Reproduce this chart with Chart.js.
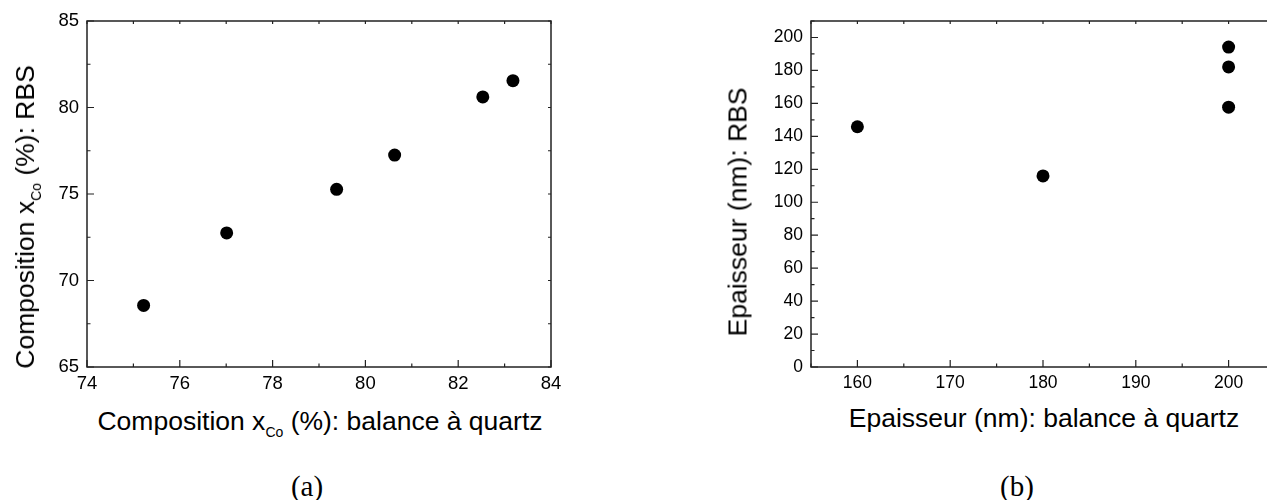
<!DOCTYPE html>
<html>
<head>
<meta charset="utf-8">
<script src="https://cdn.jsdelivr.net/npm/chart.js@4/dist/chart.umd.min.js"></script>
<style>
  html, body { margin: 0; padding: 0; background: #fff; overflow: hidden; width: 1267px; height: 500px; }
  canvas { position: absolute; top: 0; }
  .lbl { position: absolute; font-family: "Liberation Sans", Arial, sans-serif; font-size: 26.5px; color: #000;
         white-space: nowrap; transform: translate(-50%, -50%); }
  .lbl sub { font-size: 14px; vertical-align: -7px; }
  .rot { transform: translate(-50%, -50%) rotate(-90deg); }
  .cap { position: absolute; font-family: "Liberation Serif", "DejaVu Serif", serif; font-size: 29px;
         transform: translate(-50%, -50%); }
</style>
</head>
<body>
<canvas id="compChart" width="580" height="400" style="left:0"></canvas>
<canvas id="thickChart" width="600" height="400" style="left:700px"></canvas>

<div class="lbl rot" style="left:27px; top:217px">Composition x<sub>Co</sub> (%): RBS</div>
<div class="lbl" style="left:320px; top:423px">Composition x<sub>Co</sub> (%): balance à quartz</div>
<div class="cap" style="left:307px; top:486px">(a)</div>

<div class="lbl rot" style="left:738px; top:212px">Epaisseur (nm): RBS</div>
<div class="lbl" style="left:1044px; top:418px">Epaisseur (nm): balance à quartz</div>
<div class="cap" style="left:1017px; top:486px">(b)</div>

<script>
// (a) composition: quartz balance vs RBS
const compQuartz = [75.22, 77.01, 79.38, 80.63, 82.53, 83.18];
const compRBS    = [68.56, 72.75, 75.27, 77.25, 80.61, 81.55];
const compXTicks = [74, 76, 78, 80, 82, 84];
const compYTicks = [65, 70, 75, 80, 85];

// (b) thickness: quartz balance vs RBS
const thickQuartz = [160, 180, 200, 200, 200];
const thickRBS    = [145.8, 116.0, 194.2, 182.1, 157.7];
const thickXTicks = [160, 170, 180, 190, 200];
const thickYTicks = [0, 20, 40, 60, 80, 100, 120, 140, 160, 180, 200];

// frame box + inward ticks (major/minor), small mirrored ticks on top/right
const frameTicks = {
  id: 'frameTicks',
  afterDraw(chart, args, opts) {
    const ctx = chart.ctx;
    const a = chart.chartArea;
    const xs = chart.scales.x, ys = chart.scales.y;
    ctx.save();
    ctx.strokeStyle = '#222';
    ctx.lineWidth = 1.5;
    ctx.strokeRect(a.left, a.top, a.right - a.left, a.bottom - a.top);
    ctx.lineWidth = 1.2;
    ctx.beginPath();
    const major = (s) => s.ticks.map(t => t.value);
    const minorVals = (s, step) => {
      const out = [];
      for (let v = Math.ceil(s.min / step) * step; v <= s.max + 1e-9; v += step) {
        if (!major(s).some(m => Math.abs(m - v) < 1e-6)) out.push(v);
      }
      return out;
    };
    major(xs).forEach(v => {
      const p = xs.getPixelForValue(v);
      ctx.moveTo(p, a.bottom); ctx.lineTo(p, a.bottom - 7);
      ctx.moveTo(p, a.top); ctx.lineTo(p, a.top + 3);
    });
    minorVals(xs, opts.xMinor).forEach(v => {
      const p = xs.getPixelForValue(v);
      ctx.moveTo(p, a.bottom); ctx.lineTo(p, a.bottom - 3.5);
      ctx.moveTo(p, a.top); ctx.lineTo(p, a.top + 3);
    });
    major(ys).forEach(v => {
      const p = ys.getPixelForValue(v);
      ctx.moveTo(a.left, p); ctx.lineTo(a.left + 7, p);
      ctx.moveTo(a.right, p); ctx.lineTo(a.right - 3, p);
    });
    minorVals(ys, opts.yMinor).forEach(v => {
      const p = ys.getPixelForValue(v);
      ctx.moveTo(a.left, p); ctx.lineTo(a.left + 3.5, p);
      ctx.moveTo(a.right, p); ctx.lineTo(a.right - 3, p);
    });
    ctx.stroke();
    ctx.restore();
  }
};

function makeChart(id, xs, ys, xr, yr, xTicks, yTicks, minor, pad, yWidth, fontSize) {
  const font = { family: '"Liberation Sans", Arial, sans-serif', size: fontSize };
  return new Chart(document.getElementById(id), {
    type: 'scatter',
    data: {
      datasets: [{
        data: xs.map((x, i) => ({ x: x, y: ys[i] })),
        backgroundColor: '#000',
        borderWidth: 0,
        pointRadius: 6.5,
        showLine: false
      }]
    },
    options: {
      responsive: false,
      animation: false,
      devicePixelRatio: 1,
      layout: { padding: { left: 0, right: pad, top: 21, bottom: 0 } },
      plugins: { legend: { display: false }, tooltip: { enabled: false }, frameTicks: minor },
      scales: {
        x: {
          type: 'linear', min: xr[0], max: xr[1],
          afterBuildTicks: s => { s.ticks = xTicks.map(v => ({ value: v })); },
          afterFit: s => { s.height = 33; },
          grid: { display: false, drawTicks: false },
          border: { display: false },
          ticks: { color: '#000', font: font, padding: 6, maxRotation: 0 }
        },
        y: {
          type: 'linear', min: yr[0], max: yr[1],
          afterBuildTicks: s => { s.ticks = yTicks.map(v => ({ value: v })); },
          afterFit: s => { s.width = yWidth; },
          grid: { display: false, drawTicks: false },
          border: { display: false },
          ticks: { color: '#000', font: font, padding: 8 }
        }
      }
    },
    plugins: [frameTicks]
  });
}

makeChart('compChart', compQuartz, compRBS, [74, 84], [65, 85], compXTicks, compYTicks,
  { xMinor: 1, yMinor: 2.5 }, 29, 87, 18.5);
makeChart('thickChart', thickQuartz, thickRBS, [155, 205], [0, 210], thickXTicks, thickYTicks,
  { xMinor: 5, yMinor: 10 }, 25, 111, 17.5);
</script>
</body>
</html>
